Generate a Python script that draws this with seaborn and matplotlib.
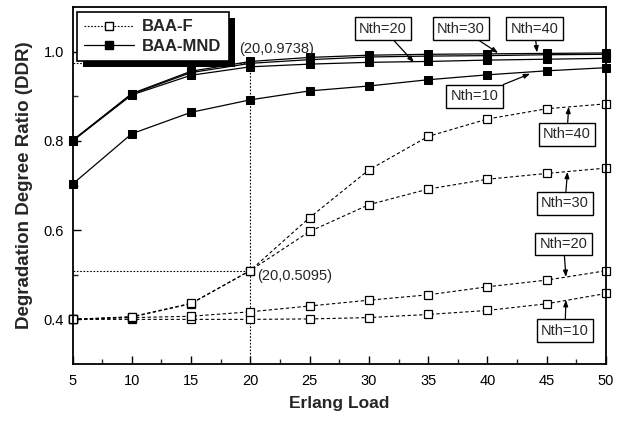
import numpy as np
import pandas as pd
import matplotlib
matplotlib.use("Agg")
import matplotlib.pyplot as plt
from matplotlib.lines import Line2D
from matplotlib.patches import Rectangle
from matplotlib.transforms import IdentityTransform
import seaborn as sns

# ---------------- data ----------------
erlang_load = [5, 10, 15, 20, 25, 30, 35, 40, 45, 50]

mnd_nth10 = [0.703, 0.816, 0.864, 0.892, 0.912, 0.923, 0.937, 0.948, 0.957, 0.964]
mnd_nth20 = [0.800, 0.903, 0.947, 0.966, 0.972, 0.976, 0.978, 0.981, 0.983, 0.985]
mnd_nth30 = [0.800, 0.905, 0.953, 0.9738, 0.982, 0.988, 0.990, 0.991, 0.993, 0.994]
mnd_nth40 = [0.801, 0.906, 0.956, 0.978, 0.987, 0.992, 0.994, 0.995, 0.996, 0.997]

f_nth10 = [0.400, 0.400, 0.400, 0.400, 0.401, 0.404, 0.411, 0.420, 0.435, 0.458]
f_nth20 = [0.400, 0.404, 0.407, 0.417, 0.430, 0.443, 0.455, 0.473, 0.488, 0.509]
f_nth30 = [0.400, 0.405, 0.435, 0.5095, 0.597, 0.657, 0.692, 0.714, 0.727, 0.739]
f_nth40 = [0.400, 0.406, 0.436, 0.5095, 0.628, 0.735, 0.810, 0.849, 0.872, 0.883]

series_names = ["BAA-F", "BAA-MND"]
x_ticks = [5, 10, 15, 20, 25, 30, 35, 40, 45, 50]
y_ticks = [0.4, 0.6, 0.8, 1.0]
mark_x = 20
mark_mnd = 0.9738
mark_f = 0.5095

# ---------------- style ----------------
sns.set_theme(style="white")
plt.rcParams["font.family"] = ["Liberation Sans", "DejaVu Sans"]

fig = plt.figure(figsize=(6.22, 4.21), dpi=100)
ax = fig.add_axes([72.5 / 622, 57 / 421, (606 - 72.5) / 622, (364 - 7) / 421])

f_dash = (0, (3, 2.2))
for ys in [f_nth10, f_nth20, f_nth30, f_nth40]:
    sns.lineplot(x=erlang_load, y=ys, ax=ax, color="black", linewidth=0.8,
                 linestyle=f_dash, marker="s", markersize=5.5,
                 markerfacecolor="white", markeredgecolor="black",
                 markeredgewidth=0.9, legend=False, zorder=3, clip_on=False)

for ys in [mnd_nth10, mnd_nth20, mnd_nth30, mnd_nth40]:
    sns.lineplot(x=erlang_load, y=ys, ax=ax, color="black", linewidth=0.9,
                 linestyle="-", marker="s", markersize=5.8,
                 markerfacecolor="black", markeredgecolor="black",
                 legend=False, zorder=3, clip_on=False)

# reference dotted lines
ref = dict(color="black", linewidth=0.8, linestyle=(0, (1.5, 1.5)), zorder=2)
ax.plot([mark_x, mark_x], [0.3, mark_mnd], **ref)
ax.plot([5, mark_x], [mark_mnd, mark_mnd], **ref)
ax.plot([5, mark_x], [mark_f, mark_f], **ref)

ax.text(19.05, 1.006, f"({mark_x},{mark_mnd})", fontsize=10.5, va="center", ha="left")
ax.text(20.55, 0.497, f"({mark_x},{mark_f})", fontsize=10.5, va="center", ha="left")

# ---------------- boxed labels with arrows ----------------
box = dict(boxstyle="square,pad=0.3", facecolor="white", edgecolor="black", linewidth=1.0)
arrow = dict(arrowstyle="-|>,head_length=0.35,head_width=0.13", color="black",
             linewidth=0.9, shrinkA=0, shrinkB=0)
labels = [
    ("Nth=20", (31.19, 1.0515), (33.8, 0.976)),
    ("Nth=30", (37.77, 1.0515), (40.9, 0.997)),
    ("Nth=40", (43.97, 1.0515), (44.18, 0.998)),
    ("Nth=10", (38.91, 0.900), (43.6, 0.9505)),
    ("Nth=40", (46.71, 0.8148), (46.85, 0.8765)),
    ("Nth=30", (46.54, 0.660), (46.75, 0.7307)),
    ("Nth=20", (46.42, 0.569), (46.62, 0.495)),
    ("Nth=10", (46.54, 0.375), (46.62, 0.4436)),
]
for txt, pos, target in labels:
    ax.annotate(txt, xy=target, xytext=pos, fontsize=10.5, ha="center", va="center",
                bbox=box, arrowprops=arrow, zorder=6)

# ---------------- axes ----------------
ax.set_xlim(5, 50)
ax.set_ylim(0.3, 1.1)
ax.set_xticks(x_ticks)
ax.set_xticks(np.arange(7.5, 50, 5), minor=True)
ax.set_yticks(y_ticks)
ax.set_yticks([0.5, 0.7, 0.9], minor=True)
ax.set_yticklabels([f"{v:.1f}" for v in y_ticks])
ax.tick_params(axis="both", which="major", direction="in", length=6, width=1.0,
               labelsize=10.5, colors="black", bottom=True, left=True)
ax.tick_params(axis="x", which="major", pad=7)
ax.tick_params(axis="y", which="major", pad=6)
ax.tick_params(axis="both", which="minor", direction="in", length=3.5, width=1.0,
               bottom=True, left=True)
for s in ax.spines.values():
    s.set_visible(True)
    s.set_color("black")
    s.set_linewidth(1.3)
    s.set_zorder(4)

ax.set_xlabel("Erlang Load", fontsize=12.5, fontweight="bold", labelpad=6)
ax.set_ylabel("Degradation Degree Ratio (DDR)", fontsize=13.5, fontweight="bold", labelpad=8)

# ---------------- legend ----------------
handles = [
    Line2D([], [], color="black", linewidth=0.8, linestyle=(0, (1.5, 1.5)), marker="s",
           markersize=5.5, markerfacecolor="white", markeredgecolor="black"),
    Line2D([], [], color="black", linewidth=0.9, linestyle="-", marker="s",
           markersize=5.8, markerfacecolor="black", markeredgecolor="black"),
]
leg = ax.legend(handles, series_names, loc="upper left", bbox_to_anchor=(0.0084, 0.986),
                borderaxespad=0, frameon=True, fancybox=False, handlelength=3.0,
                prop={"weight": "bold", "size": 12}, borderpad=0.45, labelspacing=0.25,
                handletextpad=0.45)
leg.get_frame().set_edgecolor("black")
leg.get_frame().set_linewidth(1.2)
leg.get_frame().set_alpha(1)
leg.set_zorder(7)

fig.canvas.draw()
bb = leg.get_window_extent()
shadow = Rectangle((bb.x0 + 6, bb.y0 - 6), bb.width, bb.height, transform=IdentityTransform(),
                   facecolor="black", edgecolor="none", zorder=6.9, clip_on=False)
ax.add_artist(shadow)

fig.savefig("out.png", dpi=100)
